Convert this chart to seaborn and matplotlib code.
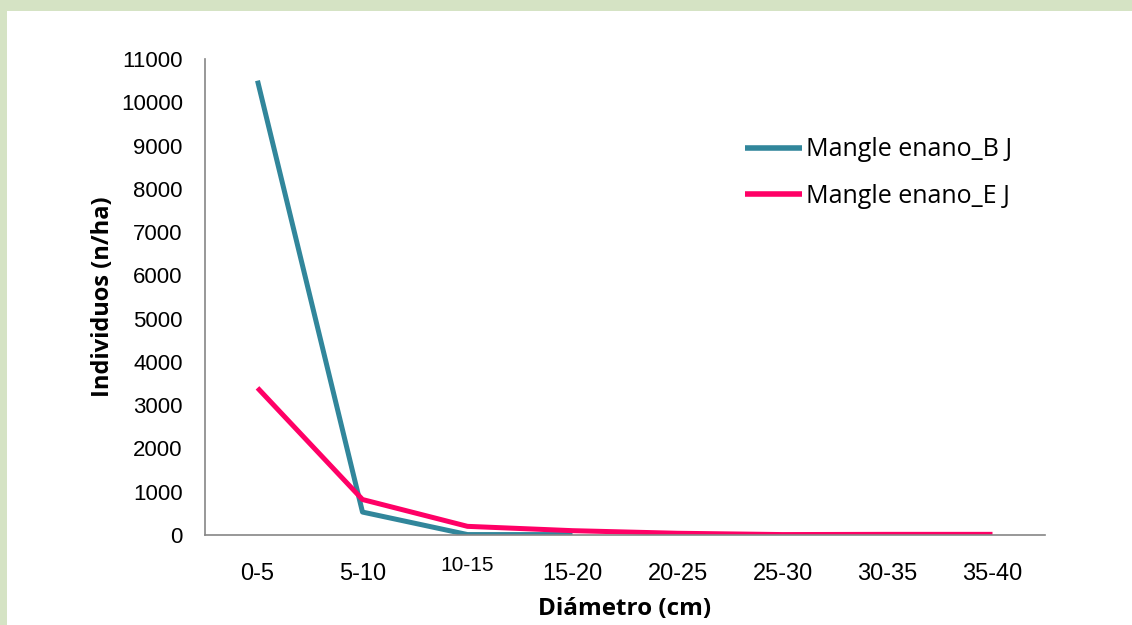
import matplotlib
matplotlib.use("Agg")
import matplotlib.pyplot as plt
import seaborn as sns
import pandas as pd
from matplotlib.patches import Rectangle

categories = ["0-5", "5-10", "10-15", "15-20", "20-25", "25-30", "30-35", "35-40"]
blue_cats = ["0-5", "5-10", "10-15", "15-20"]
blue_vals = [10500, 530, 10, 10]
pink_vals = [3400, 820, 200, 100, 40, 10, 15, 15]
series_names = ["Mangle enano_B J", "Mangle enano_E J"]
yticks = list(range(0, 11001, 1000))

rows = []
for c, v in zip(blue_cats, blue_vals):
    rows.append({"cat": categories.index(c), "val": v, "serie": series_names[0]})
for c, v in zip(categories, pink_vals):
    rows.append({"cat": categories.index(c), "val": v, "serie": series_names[1]})
df = pd.DataFrame(rows)

sns.set_theme(style="white")
plt.rcParams["font.family"] = ["Liberation Sans", "DejaVu Sans"]
plt.rcParams["text.color"] = "black"
plt.rcParams["axes.labelcolor"] = "black"
plt.rcParams["xtick.labelcolor"] = "black"
plt.rcParams["ytick.labelcolor"] = "black"

fig = plt.figure(figsize=(11.32, 6.25), dpi=100)
fig.patch.set_facecolor("#d5e3c4")
bg = Rectangle((7 / 1132, 0), 1 - 7 / 1132, 1 - 11 / 625,
               transform=fig.transFigure, facecolor="white",
               edgecolor="none", zorder=-10)
fig.add_artist(bg)
ax = fig.add_axes([205 / 1132, 1 - 535 / 625, 840 / 1132, 476 / 625])
ax.set_facecolor("none")
ax.set_zorder(5)

palette = {series_names[0]: "#31869b", series_names[1]: "#ff0066"}
sns.lineplot(data=df, x="cat", y="val", hue="serie", palette=palette,
             linewidth=3.6, ax=ax, legend=True, solid_capstyle="butt")

ax.set_xlim(-0.5, len(categories) - 0.5)
ax.set_ylim(0, 11000)
ax.set_yticks(yticks)
ax.set_yticklabels([str(t) for t in yticks], fontsize=16, color="black")
ax.set_xticks(range(len(categories)))
ax.set_xticklabels([])
ax.set_xticks([i - 0.5 for i in range(len(categories) + 1)], minor=True)
ax.tick_params(axis="x", which="major", length=0)
ax.tick_params(axis="x", which="minor", length=6, width=1, color="#868686", direction="out")
ax.tick_params(axis="y", length=6, width=1, color="#868686", direction="out", pad=10)
for i, c in enumerate(categories):
    if c == "10-15":
        ax.text(i, -0.045, c, transform=ax.get_xaxis_transform(), ha="center",
                va="top", fontsize=15, color="black")
    else:
        ax.text(i, -0.058, c, transform=ax.get_xaxis_transform(), ha="center",
                va="top", fontsize=17, color="black")

for s in ["top", "right"]:
    ax.spines[s].set_visible(False)
for s in ["left", "bottom"]:
    ax.spines[s].set_color("#868686")
    ax.spines[s].set_linewidth(1.2)

ax.set_xlabel("Diámetro (cm)", fontsize=17.5, fontweight="bold", color="black",
              family=["Open Sans", "DejaVu Sans"], labelpad=35)
ax.set_ylabel("Individuos (n/ha)", fontsize=17, fontweight="bold", color="black",
              family=["Open Sans", "DejaVu Sans"], labelpad=4)

leg = ax.legend(title=None, loc="upper left", bbox_to_anchor=(722 / 1132, 1 - 115 / 625),
                bbox_transform=fig.transFigure, frameon=False,
                handlelength=2.3, handletextpad=0.15, labelspacing=0.85,
                prop={"family": ["Open Sans", "DejaVu Sans"], "size": 18})
for t in leg.get_texts():
    t.set_color("black")
for h in leg.get_lines():
    h.set_linewidth(4)

fig.savefig("out.png", dpi=100, facecolor=fig.get_facecolor())
